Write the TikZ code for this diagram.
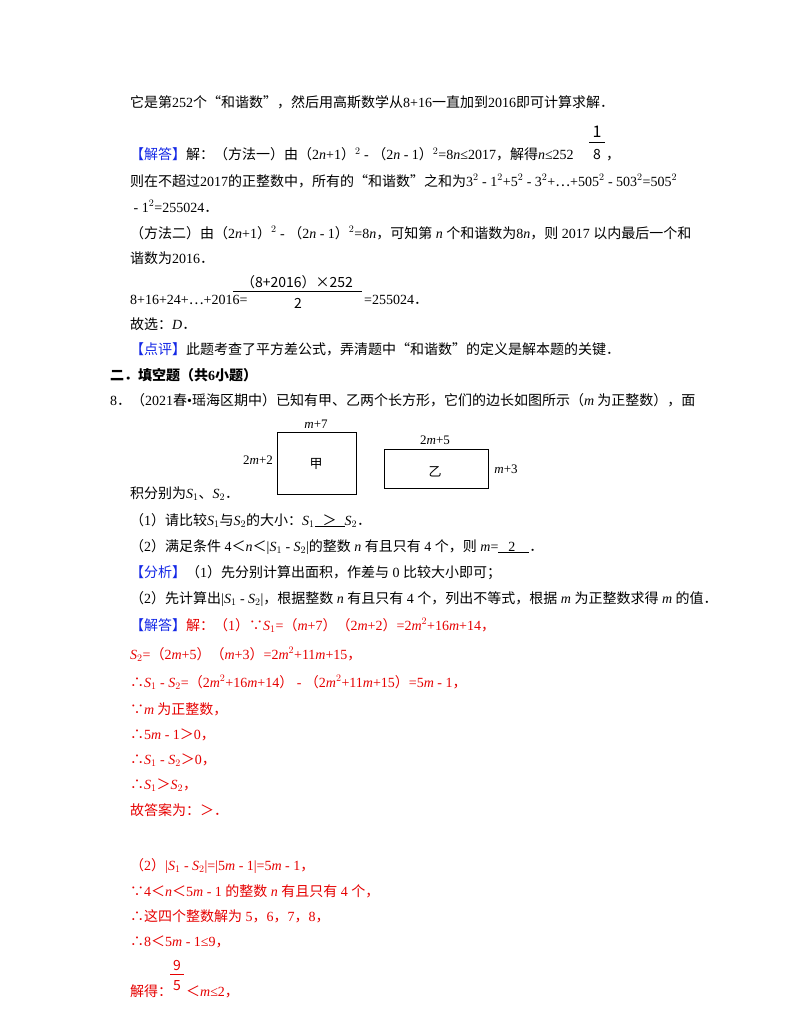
\documentclass[tikz,border=0pt]{standalone}
\usepackage{fontspec}
\setmainfont{Noto Sans CJK SC}
\newfontfamily\lat{Liberation Serif}
\newcommand{\R}[1]{{\lat #1}}
\newcommand{\I}[1]{{\lat\itshape #1}}
\definecolor{rd}{RGB}{230,0,0}
\definecolor{bl}{RGB}{20,40,230}
\begin{document}
\begin{tikzpicture}[x=1pt,y=-1pt,
  ln/.style={anchor=base west,inner sep=0pt,font=\fontsize{14}{17}\selectfont},
  rl/.style={ln,text=rd},
  lab/.style={anchor=center,inner sep=0pt,font=\lat\fontsize{13}{15}\selectfont},
  fr/.style={anchor=center,inner sep=0pt,font=\fontsize{14}{14}\selectfont}]
\useasboundingbox[fill=white] (0,0) rectangle (800,1035);
\node[ln] (l1) at (130,108) {它是第\R{252}个“和谐数”，然后用高斯数学从\R{8+16}一直加到\R{2016}即可计算求解．};
\node[ln] (l2) at (130,160) {\textcolor{bl}{【解答】}解：（方法一）由（\R{2}\I{n}\R{+1}）\R{$^2$ - }（\R{2}\I{n}\R{ - 1}）\R{$^2$=8}\I{n}\R{≤2017}，解得\I{n}\R{≤252}};
\node[fr,font=\fontsize{16}{16}\selectfont] (f1) at (597,132) {1};
\draw (589,142) -- (605,142);
\node[fr] (f8) at (597,155) {8};
\node[ln] (c8) at (606,160) {，};
\node[ln] (l3) at (130,186) {则在不超过\R{2017}的正整数中，所有的“和谐数”之和为\R{3$^2$ - 1$^2$+5$^2$ - 3$^2$+}⋯\R{+505$^2$ - 503$^2$=505$^2$}};
\node[ln] (l4) at (130,212) {\R{ - 1$^2$=255024}．};
\node[ln] (l5) at (130,238) {（方法二）由（\R{2}\I{n}\R{+1}）\R{$^2$ - }（\R{2}\I{n}\R{ - 1}）\R{$^2$=8}\I{n}，可知第\I{ n }个和谐数为\R{8}\I{n}，则\R{ 2017 }以内最后一个和};
\node[ln] (l6) at (130,263) {谐数为\R{2016}．};
\node[ln] (l7) at (130,304) {\R{8+16+24+}⋯\R{+2016=}};
\node[fr] (fn) at (297,282) {（8+2016）×252};
\draw (233,291) -- (362,291);
\node[fr] (fd) at (298,303) {2};
\node[ln] (l7b) at (364,304) {\R{=255024}．};
\node[ln] (l8) at (130,329) {故选：\I{D}．};
\node[ln] (l9) at (130,354) {\textcolor{bl}{【点评】}此题考查了平方差公式，弄清题中“和谐数”的定义是解本题的关键．};
\node[ln,font=\bfseries\fontsize{14}{17}\selectfont] (h2) at (110,380) {二．填空题（共\R{\bfseries 6}小题）};
\node[ln] (q8) at (110,405) {\R{8}．（\R{2021}春\R{•}瑶海区期中）已知有甲、乙两个长方形，它们的边长如图所示（\I{m} 为正整数），面};
\draw (277,432) rectangle (356,494);
\node[lab,font=\fontsize{13}{13}\selectfont] (jia) at (316,464) {甲};
\draw (384,449) rectangle (488,488);
\node[lab,font=\fontsize{13}{13}\selectfont] (yi) at (435,472) {乙};
\node[lab] (a1) at (316,424) {\I{m}+7};
\node[lab] (a2) at (258,460) {2\I{m}+2};
\node[lab] (a3) at (435,440) {2\I{m}+5};
\node[lab] (a4) at (506,469) {\I{m}+3};
\node[ln] (q8b) at (130,498) {积分别为\I{S}\R{$_1$}、\I{S}\R{$_2$}．};
\node[ln] (p1) at (130,525) {（\R{1}）请比较\I{S}\R{$_1$}与\I{S}\R{$_2$}的大小：\I{S}\R{$_1$}\underline{\hspace{8pt}＞\hspace{8pt}}\I{S}\R{$_2$}．};
\node[ln] (p2) at (130,551) {（\R{2}）满足条件\R{ 4}＜\I{n}＜\R{|}\I{S}\R{$_1$ - }\I{S}\R{$_2$|}的整数\I{ n }有且只有\R{ 4 }个，则\I{ m}\R{=}\underline{\R{\hspace{10pt}2\hspace{14pt}}}．};
\node[ln] (an1) at (130,577) {\textcolor{bl}{【分析】}（\R{1}）先分别计算出面积，作差与\R{ 0 }比较大小即可；};
\node[ln] (an2) at (130,603) {（\R{2}）先计算出\R{|}\I{S}\R{$_1$ - }\I{S}\R{$_2$|}，根据整数\I{ n }有且只有\R{ 4 }个，列出不等式，根据\I{ m }为正整数求得\I{ m }的值．};
\node[rl] (r1) at (130,630) {\textcolor{bl}{【解答】}解：（\R{1}）∵\I{S}\R{$_1$=}（\I{m}\R{+7}）（\R{2}\I{m}\R{+2}）\R{=2}\I{m}\R{$^2$+16}\I{m}\R{+14}，};
\node[rl] (r2) at (130,659) {\I{S}\R{$_2$=}（\R{2}\I{m}\R{+5}）（\I{m}\R{+3}）\R{=2}\I{m}\R{$^2$+11}\I{m}\R{+15}，};
\node[rl] (r3) at (130,687) {∴\I{S}\R{$_1$ - }\I{S}\R{$_2$=}（\R{2}\I{m}\R{$^2$+16}\I{m}\R{+14}）\R{ - }（\R{2}\I{m}\R{$^2$+11}\I{m}\R{+15}）\R{=5}\I{m}\R{ - 1}，};
\node[rl] (r4) at (130,714) {∵\I{m} 为正整数，};
\node[rl] (r5) at (130,739) {∴\R{5}\I{m}\R{ - 1}＞\R{0}，};
\node[rl] (r6) at (130,764) {∴\I{S}\R{$_1$ - }\I{S}\R{$_2$}＞\R{0}，};
\node[rl] (r7) at (130,789) {∴\I{S}\R{$_1$}＞\I{S}\R{$_2$}，};
\node[rl] (r8) at (130,815) {故答案为：＞．};
\node[rl] (s1) at (130,870) {（\R{2}）\R{|}\I{S}\R{$_1$ - }\I{S}\R{$_2$|=|5}\I{m}\R{ - 1|=5}\I{m}\R{ - 1}，};
\node[rl] (s2) at (130,896) {∵\R{4}＜\I{n}＜\R{5}\I{m}\R{ - 1 }的整数\I{ n }有且只有\R{ 4 }个，};
\node[rl] (s3) at (130,921) {∴这四个整数解为\R{ 5}，\R{6}，\R{7}，\R{8}，};
\node[rl] (s4) at (130,946) {∴\R{8}＜\R{5}\I{m}\R{ - 1≤9}，};
\node[rl] (s5) at (130,996) {解得：\hspace{14pt}＜\I{m}\R{≤2}，};
\node[fr,text=rd] (g9) at (177,965) {9};
\draw[rd] (170,974) -- (184,974);
\node[fr,text=rd] (g5) at (177,986) {5};
\end{tikzpicture}
\end{document}
